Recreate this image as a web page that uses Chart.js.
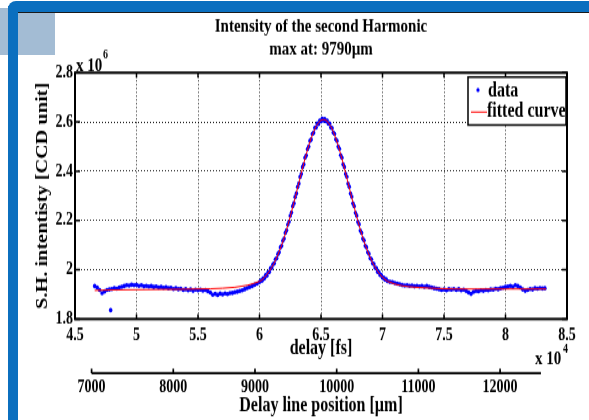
<!DOCTYPE html>
<html>
<head>
<meta charset="utf-8">
<title>Intensity of the second Harmonic</title>
<script src="https://cdn.jsdelivr.net/npm/chart.js@4/dist/chart.umd.min.js"></script>
<style>
  html, body { margin: 0; padding: 0; background: #fff; }
  body { width: 589px; height: 420px; position: relative; overflow: hidden; }
  /* slide frame around the figure */
  #pale { position: absolute; left: 0; top: 8px; width: 55px; height: 47px; background: #a3bcd4; }
  #bandTop { position: absolute; left: 8px; top: 1px; width: 581px; height: 11px; background: #0b6fbf; border-top-left-radius: 8px; }
  #bandLeft { position: absolute; left: 8px; top: 6px; width: 10px; height: 414px; background: #0b6fbf; }
  #rule { position: absolute; left: 18px; top: 12px; width: 571px; height: 1px; background: #1a1a1a; }
  /* the figure was pasted stretched vertically, so the canvas is too */
  #stretch { position: absolute; left: 0; top: 0; width: 589px; height: 331px; transform: scaleY(1.2689); transform-origin: 0 0; }
</style>
</head>
<body>
<div id="stretch"><canvas id="chart" width="589" height="331" style="width:589px;height:331px"></canvas></div>
<div id="pale"></div>
<div id="bandTop"></div>
<div id="bandLeft"></div>
<div id="rule"></div>
<script>
// delay in units of 1e4 fs, intensity in units of 1e6 CCD counts
const DATA_FS = [
  4.66, 4.68, 4.70, 4.72, 4.74, 4.76, 4.78, 4.80, 4.82, 4.84,
  4.86, 4.88, 4.90, 4.92, 4.94, 4.96, 4.98, 5.00, 5.02, 5.04,
  5.06, 5.08, 5.10, 5.12, 5.14, 5.16, 5.18, 5.20, 5.22, 5.24,
  5.26, 5.28, 5.30, 5.32, 5.34, 5.36, 5.38, 5.40, 5.42, 5.44,
  5.46, 5.48, 5.50, 5.52, 5.54, 5.56, 5.58, 5.60, 5.62, 5.64,
  5.66, 5.68, 5.70, 5.72, 5.74, 5.76, 5.78, 5.80, 5.82, 5.84,
  5.86, 5.88, 5.90, 5.92, 5.94, 5.96, 5.98, 6.00,
  6.01, 6.02, 6.03, 6.04, 6.05, 6.06, 6.07, 6.08, 6.09, 6.10,
  6.11, 6.12, 6.13, 6.14, 6.15, 6.16, 6.17, 6.18, 6.19, 6.20,
  6.21, 6.22, 6.23, 6.24, 6.25, 6.26, 6.27, 6.28, 6.29, 6.30,
  6.31, 6.32, 6.33, 6.34, 6.35, 6.36, 6.37, 6.38, 6.39, 6.40,
  6.41, 6.42, 6.43, 6.44, 6.45, 6.46, 6.47, 6.48, 6.49, 6.50,
  6.51, 6.52, 6.53, 6.54, 6.55, 6.56, 6.57, 6.58, 6.59, 6.60,
  6.61, 6.62, 6.63, 6.64, 6.65, 6.66, 6.67, 6.68, 6.69, 6.70,
  6.71, 6.72, 6.73, 6.74, 6.75, 6.76, 6.77, 6.78, 6.79, 6.80,
  6.81, 6.82, 6.83, 6.84, 6.85, 6.86, 6.87, 6.88, 6.89, 6.90,
  6.91, 6.92, 6.93, 6.94, 6.95, 6.96, 6.97, 6.98, 6.99, 7.00,
  7.01, 7.02, 7.03, 7.04,
  7.06, 7.08, 7.10, 7.12, 7.14, 7.16, 7.18, 7.20, 7.22, 7.24,
  7.26, 7.28, 7.30, 7.32, 7.34, 7.36, 7.38, 7.40, 7.42, 7.44,
  7.46, 7.48, 7.50, 7.52, 7.54, 7.56, 7.58, 7.60, 7.62, 7.64,
  7.66, 7.68, 7.70, 7.72, 7.74, 7.76, 7.78, 7.80, 7.82, 7.84,
  7.86, 7.88, 7.90, 7.92, 7.94, 7.96, 7.98, 8.00, 8.02, 8.04,
  8.06, 8.08, 8.10, 8.12, 8.14, 8.16, 8.18, 8.20, 8.22, 8.24,
  8.26, 8.28, 8.30, 8.32,
  4.79
]
const DATA_SH = [
  1.934, 1.928, 1.918, 1.905, 1.912, 1.918, 1.920, 1.922, 1.925, 1.923,
  1.928, 1.931, 1.934, 1.937, 1.936, 1.939, 1.937, 1.938, 1.935, 1.937,
  1.933, 1.935, 1.932, 1.934, 1.930, 1.932, 1.928, 1.930, 1.927, 1.929,
  1.925, 1.927, 1.922, 1.925, 1.921, 1.923, 1.918, 1.921, 1.917, 1.920,
  1.915, 1.919, 1.917, 1.919, 1.916, 1.918, 1.913, 1.908, 1.899, 1.902,
  1.898, 1.903, 1.900, 1.904, 1.901, 1.905, 1.906, 1.909, 1.911, 1.914,
  1.917, 1.921, 1.926, 1.930, 1.934, 1.939, 1.944, 1.950,
  1.957, 1.955, 1.966, 1.965, 1.978, 1.976, 1.990, 1.991, 2.006, 2.008,
  2.022, 2.026, 2.043, 2.047, 2.064, 2.071, 2.091, 2.097, 2.118, 2.127,
  2.150, 2.160, 2.183, 2.195, 2.219, 2.232, 2.258, 2.270, 2.296, 2.310,
  2.336, 2.350, 2.377, 2.389, 2.417, 2.428, 2.455, 2.464, 2.490, 2.500,
  2.523, 2.529, 2.552, 2.556, 2.576, 2.578, 2.594, 2.592, 2.606, 2.603,
  2.613, 2.606, 2.612, 2.603, 2.606, 2.593, 2.594, 2.578, 2.575, 2.557,
  2.552, 2.530, 2.523, 2.500, 2.491, 2.465, 2.455, 2.428, 2.417, 2.389,
  2.378, 2.349, 2.337, 2.309, 2.297, 2.269, 2.258, 2.231, 2.220, 2.194,
  2.184, 2.159, 2.150, 2.126, 2.119, 2.097, 2.091, 2.071, 2.065, 2.047,
  2.043, 2.026, 2.023, 2.008, 2.006, 1.992, 1.991, 1.979, 1.978, 1.968,
  1.968, 1.960, 1.961, 1.954,
  1.951, 1.950, 1.946, 1.944, 1.941, 1.938, 1.936, 1.937, 1.935, 1.936,
  1.933, 1.935, 1.932, 1.934, 1.931, 1.934, 1.930, 1.928, 1.925, 1.923,
  1.921, 1.918, 1.920, 1.917, 1.921, 1.919, 1.922, 1.918, 1.921, 1.917,
  1.919, 1.914, 1.908, 1.902, 1.910, 1.914, 1.913, 1.917, 1.915, 1.918,
  1.917, 1.920, 1.919, 1.923, 1.921, 1.925, 1.927, 1.930, 1.932, 1.935,
  1.931, 1.937, 1.934, 1.928, 1.920, 1.915, 1.918, 1.922, 1.920, 1.925,
  1.923, 1.926, 1.924, 1.925,
  1.836
]

// fitted curve
const FIT_FS = [
  4.66, 4.80, 5.00, 5.20, 5.40, 5.50, 5.60, 5.70, 5.80, 5.85, 5.90, 5.95, 6.00,
  6.02, 6.04, 6.06, 6.08, 6.10, 6.12, 6.14, 6.16, 6.18, 6.20,
  6.22, 6.24, 6.26, 6.28, 6.30, 6.32, 6.34, 6.36, 6.38, 6.40,
  6.42, 6.44, 6.46, 6.48, 6.50, 6.52, 6.54, 6.56, 6.58, 6.60,
  6.62, 6.64, 6.66, 6.68, 6.70, 6.72, 6.74, 6.76, 6.78, 6.80,
  6.82, 6.84, 6.86, 6.88, 6.90, 6.92, 6.94, 6.96, 6.98, 7.00,
  7.02, 7.04, 7.10, 7.15, 7.20, 7.30, 7.40, 7.50, 7.60, 7.80, 8.00, 8.20, 8.33
]
const FIT_SH = [
  1.916, 1.918, 1.919, 1.920, 1.921, 1.922, 1.923, 1.925, 1.929, 1.933, 1.937, 1.944, 1.953,
  1.959, 1.969, 1.980, 1.994, 2.010, 2.028, 2.050, 2.074, 2.100, 2.130,
  2.163, 2.198, 2.235, 2.273, 2.313, 2.353, 2.393, 2.432, 2.469, 2.504,
  2.534, 2.561, 2.582, 2.597, 2.607, 2.610, 2.607, 2.597, 2.582, 2.561,
  2.534, 2.504, 2.469, 2.432, 2.393, 2.353, 2.313, 2.273, 2.235, 2.198,
  2.163, 2.130, 2.100, 2.074, 2.050, 2.028, 2.010, 1.994, 1.980, 1.970,
  1.961, 1.953, 1.942, 1.936, 1.932, 1.928, 1.925, 1.923, 1.922, 1.922, 1.922, 1.922, 1.922
]

// second x axis: delay line position in micrometres
const UM_TICKS = [7000, 8000, 9000, 10000, 11000, 12000]
const UM_AXIS_END = 12500

const FONT = "'Liberation Serif', 'Times New Roman', serif"
const fmt = v => String(Number(v.toFixed(2)))

// MATLAB style box, inward ticks, micrometre axis line, legend, exponent labels
const figureDecor = {
  id: 'figureDecor',
  afterDatasetsDraw(chart) {
    const { ctx, chartArea: a, scales } = chart
    const { x, y, x2 } = scales
    ctx.save()
    ctx.strokeStyle = '#000'
    ctx.lineWidth = 1.5
    ctx.beginPath()
    x.ticks.forEach(t => {
      const px = x.getPixelForValue(t.value)
      ctx.moveTo(px, a.bottom); ctx.lineTo(px, a.bottom - 4)
      ctx.moveTo(px, a.top); ctx.lineTo(px, a.top + 4)
    })
    y.ticks.forEach(t => {
      const py = y.getPixelForValue(t.value)
      ctx.moveTo(a.left, py); ctx.lineTo(a.left + 5, py)
      ctx.moveTo(a.right, py); ctx.lineTo(a.right - 5, py)
    })
    ctx.stroke()
    ctx.lineWidth = 2
    ctx.strokeRect(a.left, a.top, a.right - a.left, a.bottom - a.top)

    // micrometre axis
    const axisY = x2.top + 8
    ctx.lineWidth = 1.7
    ctx.beginPath()
    ctx.moveTo(x2.getPixelForValue(UM_TICKS[0]), axisY)
    ctx.lineTo(x2.getPixelForValue(UM_AXIS_END), axisY)
    UM_TICKS.forEach(v => {
      const px = x2.getPixelForValue(v)
      ctx.moveTo(px, axisY); ctx.lineTo(px, axisY - 3.5)
    })
    ctx.stroke()
    ctx.restore()
  },
  afterDraw(chart) {
    const { ctx, chartArea: a } = chart
    const [data, fit] = chart.data.datasets
    ctx.save()

    // legend
    const lw = 98, lh = 37.8
    const lx = a.right - lw - 1, ly = a.top + 3.4
    ctx.fillStyle = '#fff'
    ctx.fillRect(lx, ly, lw, lh)
    ctx.strokeStyle = '#000'
    ctx.lineWidth = 1.5
    ctx.strokeRect(lx, ly, lw, lh)
    ctx.fillStyle = data.backgroundColor
    ctx.beginPath()
    ctx.arc(lx + 10, ly + 10.2, 1.6, 0, Math.PI * 2)
    ctx.fill()
    ctx.strokeStyle = fit.borderColor
    ctx.lineWidth = 1
    ctx.beginPath()
    ctx.moveTo(lx + 3, ly + 27.6); ctx.lineTo(lx + 19, ly + 27.6)
    ctx.stroke()
    ctx.fillStyle = '#000'
    ctx.font = `bold 16px ${FONT}`
    ctx.textBaseline = 'middle'
    ctx.textAlign = 'left'
    ctx.fillText(data.label, lx + 20, ly + 11)
    ctx.fillText(fit.label, lx + 19, ly + 27.6)

    // exponent labels
    ctx.font = `bold 15px ${FONT}`
    ctx.fillText('x 10', a.left + 1, a.top - 5.5)
    ctx.fillText('x 10', 535, 283)
    ctx.font = `bold 10px ${FONT}`
    ctx.fillText('6', a.left + 28, a.top - 13.5)
    ctx.fillText('4', 563, 275)
    ctx.restore()
  }
}

const tickFont = { family: FONT, size: 14, weight: 'bold' }
const titleFont = { family: FONT, size: 16, weight: 'bold' }

new Chart(document.getElementById('chart'), {
  type: 'scatter',
  data: {
    datasets: [
      {
        label: 'data',
        data: DATA_FS.map((v, i) => ({ x: v, y: DATA_SH[i] })),
        backgroundColor: '#0000ff',
        borderWidth: 0,
        pointRadius: 1.8,
        order: 1,
      },
      {
        label: 'fitted curve',
        data: FIT_FS.map((v, i) => ({ x: v, y: FIT_SH[i] })),
        showLine: true,
        borderColor: '#ff0000',
        borderWidth: 1,
        pointRadius: 0,
        order: 0,
      },
    ],
  },
  options: {
    responsive: false,
    animation: false,
    layout: { padding: { top: 0, right: 22, bottom: 0, left: 0 } },
    plugins: {
      legend: { display: false },
      tooltip: { enabled: false },
      title: {
        display: true,
        fullSize: false,
        text: ['Intensity of the second Harmonic', 'max at: 9790µm'],
        color: '#000',
        font: { family: FONT, size: 15, weight: 'bold', lineHeight: 1.2 },
        padding: { top: 12.3, bottom: 9 },
      },
    },
    scales: {
      x: {
        type: 'linear',
        position: 'bottom',
        weight: 0,
        min: 4.5,
        max: 8.5,
        afterFit: s => { s.height = 34.7 },
        ticks: { stepSize: 0.5, color: '#000', font: tickFont, padding: 4.4, maxRotation: 0, autoSkip: false, callback: fmt },
        grid: { color: 'rgba(0,0,0,0.85)', lineWidth: 1, drawTicks: false },
        border: { display: false, dash: [1, 2] },
        title: { display: true, text: 'delay [fs]', color: '#000', font: titleFont, padding: { top: 0, bottom: 1.2 } },
      },
      x2: {
        type: 'linear',
        position: 'bottom',
        weight: 1,
        min: 6797,
        max: 12819,
        afterBuildTicks: s => { s.ticks = UM_TICKS.map(v => ({ value: v })) },
        afterFit: s => { s.height = 44.9 },
        ticks: { color: '#000', font: tickFont, padding: 11.3, maxRotation: 0, autoSkip: false, callback: v => String(v) },
        grid: { display: false, drawTicks: false },
        border: { display: false },
        title: { display: true, text: 'Delay line position [µm]', color: '#000', font: titleFont, padding: { top: 0, bottom: 1.4 } },
      },
      y: {
        type: 'linear',
        min: 1.8,
        max: 2.8,
        afterFit: s => { s.width = 75 },
        ticks: { stepSize: 0.2, color: '#000', font: tickFont, padding: 2, callback: fmt },
        grid: { color: 'rgba(0,0,0,0.85)', lineWidth: 1, drawTicks: false },
        border: { display: false, dash: [1, 2] },
        title: { display: true, text: 'S.H. intentisty [CCD unit]', color: '#000', font: titleFont, padding: { top: 33.4, bottom: 0 } },
      },
    },
  },
  plugins: [figureDecor],
})
</script>
</body>
</html>
